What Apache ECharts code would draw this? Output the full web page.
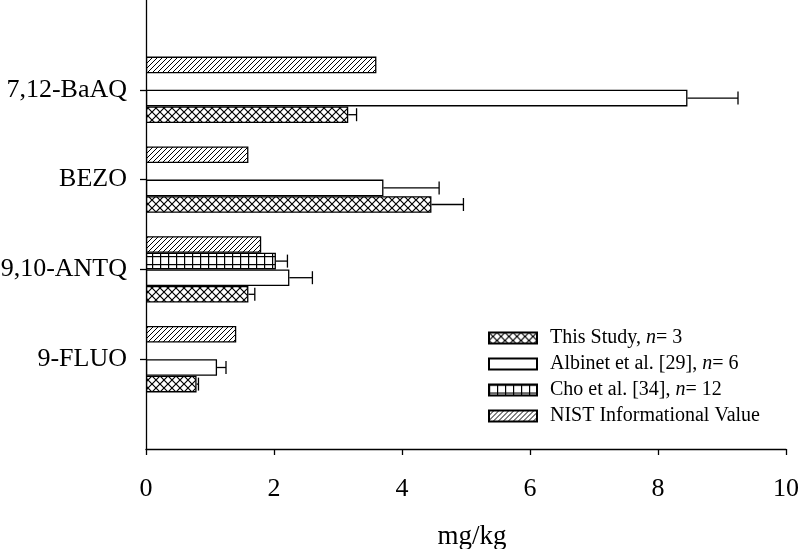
<!DOCTYPE html>
<html>
<head>
<meta charset="utf-8">
<script src="https://cdn.jsdelivr.net/npm/echarts@6/dist/echarts.min.js"></script>
<style>
html,body{margin:0;padding:0;background:#fff;}
#chart{width:800px;height:549px;}
</style>
</head>
<body>
<div id="chart"></div>
<script>
// ---- data (categories listed bottom to top) ----
const categories = ['9-FLUO', '9,10-ANTQ', 'BEZO', '7,12-BaAQ'];
const seriesNames = ['This Study, n= 3', 'Albinet et al. [29], n= 6', 'Cho et al. [34], n= 12', 'NIST Informational Value'];
const legendLabels = ['This Study, {i|n}= 3', 'Albinet et al. [29], {i|n}= 6', 'Cho et al. [34], {i|n}= 12', 'NIST Informational Value'];
const thisStudy     = [0.79, 1.60, 4.46, 3.16];
const thisStudyErr  = [0.03, 0.10, 0.50, 0.13];
const albinet       = [1.11, 2.24, 3.71, 8.46];
const albinetErr    = [0.14, 0.36, 0.87, 0.79];
const cho           = [null, 2.03, null, null];
const choErr        = [null, 0.18, null, null];
const nist          = [1.41, 1.80, 1.60, 3.60];
const xTicks = [0, 2, 4, 6, 8, 10];

// ---- patterns ----
function makePattern(size, draw) {
  const c = document.createElement('canvas');
  c.width = size; c.height = size;
  const ctx = c.getContext('2d');
  ctx.fillStyle = '#fff';
  ctx.fillRect(0, 0, size, size);
  ctx.strokeStyle = '#000';
  ctx.fillStyle = '#000';
  draw(ctx, size);
  return { image: c, repeat: 'repeat' };
}
const patCross = makePattern(8, (ctx, s) => {
  ctx.lineWidth = 1.2;
  ctx.beginPath();
  ctx.moveTo(-1, -1); ctx.lineTo(s + 1, s + 1);
  ctx.moveTo(s + 1, -1); ctx.lineTo(-1, s + 1);
  ctx.stroke();
});
const patGrid = makePattern(8, (ctx, s) => {
  ctx.fillRect(0, 0, 1.2, s);
  ctx.fillRect(0, 0, s, 1.2);
});
const patDiag = makePattern(5, (ctx, s) => {
  ctx.lineWidth = 1;
  ctx.beginPath();
  ctx.moveTo(-1, s + 1); ctx.lineTo(s + 1, -1);
  ctx.moveTo(-1, 1); ctx.lineTo(1, -1);
  ctx.moveTo(s - 1, s + 1); ctx.lineTo(s + 1, s - 1);
  ctx.stroke();
});

const pad = arr => [null].concat(arr, [null]);
const yCats = [''].concat(categories, ['']);
const FONT = "'Liberation Serif', 'Times New Roman', serif";
const BAR_W = 16.6;

// slot offsets (pixels, +down): This Study bottom ... NIST top
const slotOffset = [1.5 * BAR_W, 0.5 * BAR_W, -0.5 * BAR_W, -1.5 * BAR_W];

function errSeries(vals, errs, slot) {
  const data = [];
  vals.forEach((v, i) => {
    if (v != null && errs[i] != null) data.push([v, i + 1, errs[i]]);
  });
  return {
    type: 'custom',
    name: 'err' + slot,
    silent: true,
    z: 5,
    data: data,
    renderItem: function (params, api) {
      const v = api.value(0), c = api.value(1), e = api.value(2);
      const p0 = api.coord([v, c]);
      const p1 = api.coord([v + e, c]);
      const y = p0[1] + slotOffset[slot];
      const cap = 6.5;
      return {
        type: 'group',
        children: [
          { type: 'line', shape: { x1: p0[0], y1: y, x2: p1[0], y2: y }, style: { stroke: '#000', lineWidth: 1.3 } },
          { type: 'line', shape: { x1: p1[0], y1: y - cap, x2: p1[0], y2: y + cap }, style: { stroke: '#000', lineWidth: 1.3 } }
        ]
      };
    }
  };
}

const barStyle = fill => ({ color: fill, borderColor: '#000', borderWidth: 1.3 });
const values = [thisStudy, albinet, cho, nist];
const fills = [patCross, '#ffffff', patGrid, patDiag];
// draw order: top slot first so that ECharts offsets place This Study at the bottom
const order = [3, 2, 1, 0];
const barSeries = order.map(k => ({
  type: 'bar',
  name: seriesNames[k],
  data: pad(values[k]),
  barWidth: BAR_W,
  barGap: '0%',
  itemStyle: barStyle(fills[k]),
  emphasis: { disabled: true }
}));

const chart = echarts.init(document.getElementById('chart'), null, { renderer: 'canvas' });
chart.setOption({
  animation: false,
  backgroundColor: '#fff',
  grid: { left: 146, right: 14, top: 0, bottom: 100, containLabel: false, outerBoundsMode: 'none' },
  xAxis: {
    type: 'value',
    min: xTicks[0], max: xTicks[xTicks.length - 1], interval: 2,
    splitLine: { show: false },
    axisLine: { show: true, lineStyle: { color: '#000', width: 1.3 } },
    axisTick: { show: true, length: 6, lineStyle: { color: '#000', width: 1.3 } },
    axisLabel: { color: '#000', fontFamily: FONT, fontSize: 26, margin: 27 },
    name: 'mg/kg',
    nameLocation: 'middle',
    nameGap: 74,
    nameTextStyle: { color: '#000', fontFamily: FONT, fontSize: 27, padding: [0, 0, 0, 12] }
  },
  yAxis: {
    type: 'category',
    data: yCats,
    boundaryGap: false,
    axisLine: { show: true, lineStyle: { color: '#000', width: 1.3 } },
    axisTick: { show: true, length: 6, interval: (i) => i >= 1 && i <= categories.length, lineStyle: { color: '#000', width: 1.3 } },
    axisLabel: { interval: 0, color: '#000', fontFamily: FONT, fontSize: 26, margin: 19 },
    splitLine: { show: false }
  },
  legend: {
    orient: 'vertical',
    left: 488,
    top: 328,
    padding: 0,
    itemWidth: 48,
    itemHeight: 11,
    itemGap: 6,
    icon: 'rect',
    data: seriesNames,
    formatter: name => legendLabels[seriesNames.indexOf(name)],
    textStyle: {
      color: '#000', fontFamily: FONT, fontSize: 20, padding: [0, 0, 0, 8],
      rich: { i: { fontStyle: 'italic', fontFamily: FONT, fontSize: 20, color: '#000' } }
    },
    selectedMode: false
  },
  series: barSeries.concat([
    errSeries(thisStudy, thisStudyErr, 0),
    errSeries(albinet, albinetErr, 1),
    errSeries(cho, choErr, 2)
  ])
});
</script>
</body>
</html>
